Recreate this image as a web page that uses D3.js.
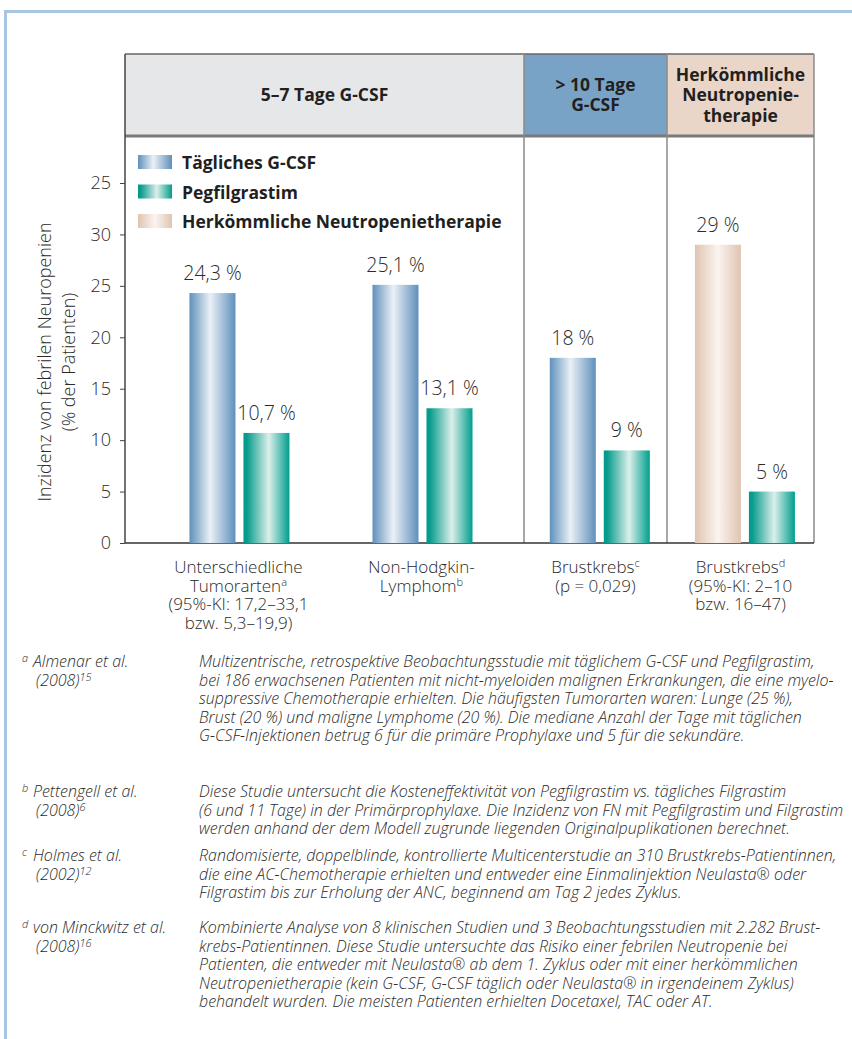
<!DOCTYPE html>
<html>
<head>
<meta charset="utf-8">
<script src="https://cdn.jsdelivr.net/npm/d3@7"></script>
<style>
body { margin: 0; background: #fff; }
svg { display: block; }
</style>
</head>
<body>
<div id="app"></div>
<script>
// Data.
var panelTitles = [["5–7 Tage G-CSF"], ["> 10 Tage", "G-CSF"], ["Herkömmliche", "Neutropenie-", "therapie"]];
var categories = ["Unterschiedliche Tumorarten", "Non-Hodgkin-Lymphom", "Brustkrebs c", "Brustkrebs d"];
var categoryPanel = [0, 0, 1, 2];
var categoryLines = [
	[["Unterschiedliche"], ["Tumorarten", "a"], ["(95%-KI: 17,2–33,1"], ["bzw. 5,3–19,9)"]],
	[["Non-Hodgkin-"], ["Lymphom", "b"]],
	[["Brustkrebs", "c"], ["(p = 0,029)"]],
	[["Brustkrebs", "d"], ["(95%-KI: 2–10"], ["bzw. 16–47)"]]
];
var seriesNames = ["Tägliches G-CSF", "Pegfilgrastim", "Herkömmliche Neutropenietherapie"];
var firstSeries = [0, 0, 0, 2];		// which series the first bar of each group belongs to
var firstValues = [24.3, 25.1, 18, 29];
var pegValues = [10.7, 13.1, 9, 5];
var yTicks = [0, 5, 10, 15, 20, 25, 30, 35];
var yTickLabels = ["0", "5", "10", "15", "20", "25", "30", "25"];	// top label reads "25" in the original
var yTitle = ["Inzidenz von febrilen Neuropenien", "(% der Patienten)"];

var noteLetters = ["a", "b", "c", "d"];
var noteAuthors = [
	[["Almenar et al."], ["(2008)", "15"]],
	[["Pettengell et al."], ["(2008)", "6"]],
	[["Holmes et al."], ["(2002)", "12"]],
	[["von Minckwitz et al."], ["(2008)", "16"]]
];
var noteTexts = [
	["Multizentrische, retrospektive Beobachtungsstudie mit täglichem G-CSF und Pegfilgrastim,",
	 "bei 186 erwachsenen Patienten mit nicht-myeloiden malignen Erkrankungen, die eine myelo-",
	 "suppressive Chemotherapie erhielten. Die häufigsten Tumorarten waren: Lunge (25 %),",
	 "Brust (20 %) und maligne Lymphome (20 %). Die mediane Anzahl der Tage mit täglichen",
	 "G-CSF-Injektionen betrug 6 für die primäre Prophylaxe und 5 für die sekundäre."],
	["Diese Studie untersucht die Kosteneffektivität von Pegfilgrastim vs. tägliches Filgrastim",
	 "(6 und 11 Tage) in der Primärprophylaxe. Die Inzidenz von FN mit Pegfilgrastim und Filgrastim",
	 "werden anhand der dem Modell zugrunde liegenden Originalpuplikationen berechnet."],
	["Randomisierte, doppelblinde, kontrollierte Multicenterstudie an 310 Brustkrebs-Patientinnen,",
	 "die eine AC-Chemotherapie erhielten und entweder eine Einmalinjektion Neulasta® oder",
	 "Filgrastim bis zur Erholung der ANC, beginnend am Tag 2 jedes Zyklus."],
	["Kombinierte Analyse von 8 klinischen Studien und 3 Beobachtungsstudien mit 2.282 Brust-",
	 "krebs-Patientinnen. Diese Studie untersuchte das Risiko einer febrilen Neutropenie bei",
	 "Patienten, die entweder mit Neulasta® ab dem 1. Zyklus oder mit einer herkömmlichen",
	 "Neutropenietherapie (kein G-CSF, G-CSF täglich oder Neulasta® in irgendeinem Zyklus)",
	 "behandelt wurden. Die meisten Patienten erhielten Docetaxel, TAC oder AT."]
];

// Layout.
var width = 852, height = 1039;
var panelEdges = [125, 524, 667, 814];
var headTop = 54, headBottom = 136, baseY = 543, topY = 183;
var panelFill = ["#e6e7e9", "#79a3c6", "#e9d6c9"];
var noteY = [667, 797, 861, 933], noteLine = 18.5, noteSize = 15;
var lightFont = "'Open Sans', 'DejaVu Sans', sans-serif";
var boldFont = "'Open Sans', 'DejaVu Sans', sans-serif";
var textColor = "#2a2a2a";

var de = d3.formatLocale({decimal: ",", thousands: ".", grouping: [3], currency: ["", " €"]});
var fmt = function (v) { return de.format(v % 1 ? ".1f" : "d")(v) + " %"; };

var svg = d3.select("#app").append("svg")
	.attr("width", width).attr("height", height);

// Bar gradients.
var gradStops = [
	[[0, "#5f90bb"], [0.45, "#eaf0f6"], [1, "#5f90bb"]],
	[[0, "#009a8a"], [0.08, "#0a9d8e"], [0.55, "#dcefea"], [1, "#009e8e"]],
	[[0, "#e0c4b1"], [0.5, "#faf4f0"], [1, "#e0c4b1"]]
];
var defs = svg.append("defs");
gradStops.forEach(function (stops, i)
{
	var g = defs.append("linearGradient").attr("id", "grad" + i)
		.attr("x1", 0).attr("x2", 1).attr("y1", 0).attr("y2", 0);
	stops.forEach(function (s) { g.append("stop").attr("offset", s[0]).attr("stop-color", s[1]); });
});

// Outer frame.
svg.append("path")
	.attr("d", "M5.5,1039V11.5H852")
	.attr("fill", "none").attr("stroke", "#a8c5e2").attr("stroke-width", 3);

// Scales.
var y = d3.scaleLinear().domain([0, 35]).range([baseY, topY]);
var panelScales = panelTitles.map(function (t, p)
{
	var dom = categories.filter(function (c, i) { return categoryPanel[i] == p; });
	return d3.scalePoint().domain(dom)
		.range([panelEdges[p], panelEdges[p + 1]])
		.padding(dom.length > 1 ? 0.59 : 1).align(0.53);
});
var xGroup = function (i) { return panelScales[categoryPanel[i]](categories[i]); };
var xInner = d3.scaleBand().domain([0, 1]).range([-50, 50]).paddingInner(0.148);

// Header panels.
var head = svg.append("g");
panelTitles.forEach(function (lines, p)
{
	var x0 = panelEdges[p], x1 = panelEdges[p + 1], cx = (x0 + x1) / 2;
	head.append("rect").attr("x", x0).attr("y", headTop)
		.attr("width", x1 - x0).attr("height", headBottom - headTop)
		.attr("fill", panelFill[p]);
	var lh = 20.5, y0 = (headTop + headBottom) / 2 - (lines.length - 1) * lh / 2 + 6;
	lines.forEach(function (l, k)
	{
		head.append("text").attr("x", cx).attr("y", y0 + k * lh)
			.attr("text-anchor", "middle")
			.style("font", "bold 17.5px " + boldFont)
			.attr("fill", "#231f20").text(l);
	});
});
head.append("line").attr("x1", panelEdges[0]).attr("x2", panelEdges[3])
	.attr("y1", headTop).attr("y2", headTop).attr("stroke", "#666").attr("stroke-width", 1.5);
head.append("line").attr("x1", panelEdges[0]).attr("x2", panelEdges[3])
	.attr("y1", headBottom).attr("y2", headBottom).attr("stroke", "#7a7a7a").attr("stroke-width", 3);

// Panel dividers down to the baseline.
panelEdges.forEach(function (x, k)
{
	svg.append("line").attr("x1", x).attr("x2", x)
		.attr("y1", headTop).attr("y2", baseY)
		.attr("stroke", k == 0 ? "#444" : "#8a8a8a").attr("stroke-width", 1.5);
});

// Y axis.
var yAxis = svg.append("g").attr("transform", "translate(" + panelEdges[0] + ",0)")
	.call(d3.axisLeft(y).tickValues(yTicks)
		.tickFormat(function (d, i) { return yTickLabels[i]; })
		.tickSize(5).tickPadding(9));
yAxis.select(".domain").remove();
yAxis.selectAll(".tick line").attr("stroke", "#444");
yAxis.selectAll(".tick text").attr("fill", textColor)
	.style("font", "300 18px " + lightFont);

svg.append("line").attr("x1", panelEdges[0]).attr("x2", panelEdges[3])
	.attr("y1", baseY).attr("y2", baseY).attr("stroke", "#333").attr("stroke-width", 1.5);

// Y title.
yTitle.forEach(function (t, k)
{
	svg.append("text")
		.attr("transform", "translate(" + (51 + k * 24) + "," + 362 + ") rotate(-90)")
		.attr("text-anchor", "middle").attr("fill", textColor)
		.style("font", "300 18px " + lightFont)
		.text(t);
});

// Bars.
var bars = [];
categories.forEach(function (c, i)
{
	bars.push({group: i, slot: 0, series: firstSeries[i], value: firstValues[i]});
	bars.push({group: i, slot: 1, series: 1, value: pegValues[i]});
});
svg.append("g").selectAll("rect").data(bars).join("rect")
	.attr("x", function (d) { return xGroup(d.group) + xInner(d.slot); })
	.attr("width", xInner.bandwidth())
	.attr("y", function (d) { return y(d.value); })
	.attr("height", function (d) { return y(0) - y(d.value); })
	.attr("fill", function (d) { return "url(#grad" + d.series + ")"; });
svg.append("g").selectAll("text").data(bars).join("text")
	.attr("x", function (d) { return xGroup(d.group) + xInner(d.slot) + xInner.bandwidth() / 2; })
	.attr("y", function (d) { return y(d.value) - 13; })
	.attr("text-anchor", "middle").attr("fill", textColor)
	.style("font", "300 19.5px " + lightFont)
	.text(function (d) { return fmt(d.value); });

// Category labels.
categoryLines.forEach(function (lines, i)
{
	var p = categoryPanel[i];
	var cx = panelScales[p].domain().length > 1 ? xGroup(i) - 1 : (panelEdges[p] + panelEdges[p + 1]) / 2;
	lines.forEach(function (l, k)
	{
		var t = svg.append("text").attr("x", cx).attr("y", 573 + k * 18.5)
			.attr("text-anchor", "middle").attr("fill", textColor)
			.style("font", "300 17px " + lightFont);
		t.append("tspan").text(l[0]);
		if (l[1])
			t.append("tspan").attr("dy", -6).style("font-size", "11px").text(l[1]);
	});
});

// Legend.
var legend = svg.append("g").attr("transform", "translate(138,155)");
seriesNames.forEach(function (s, i)
{
	legend.append("rect").attr("x", 0).attr("y", i * 29.5)
		.attr("width", 34).attr("height", 14).attr("fill", "url(#grad" + i + ")");
	legend.append("text").attr("x", 44).attr("y", i * 29.5 + 14)
		.attr("fill", "#231f20")
		.style("font", "bold 17.5px " + boldFont)
		.text(s);
});

// Footnotes: narrow Open Sans via its width axis so the first line spans 616px at 15px,
// fall back to DejaVu Sans Condensed if the width axis is missing.
var probe = svg.append("text").style("font", "italic 300 " + noteSize + "px 'Open Sans'").text(noteTexts[0][0]);
var w100 = probe.node().getComputedTextLength();
probe.style("font-stretch", "75%");
var w75 = probe.node().getComputedTextLength();
probe.remove();
var useCond = w75 < w100 * 0.95;
var stretch = useCond ? Math.max(75, Math.min(100, 75 + 25 * (616 - w75) / (w100 - w75))) : 100;

var notes = svg.append("g").attr("fill", textColor)
	.style("font-family", useCond ? "'Open Sans'" : "'DejaVu Sans Condensed', 'DejaVu Sans', sans-serif")
	.style("font-stretch", useCond ? stretch + "%" : null)
	.style("font-weight", useCond ? 300 : null)
	.style("font-style", "italic").style("font-size", noteSize + "px");
noteLetters.forEach(function (letter, i)
{
	notes.append("text").attr("x", 22).attr("y", noteY[i] - 5)
		.attr("class", "sup").text(letter);
	noteAuthors[i].forEach(function (l, k)
	{
		var t = notes.append("text").attr("x", k == 0 ? 33 : 36).attr("y", noteY[i] + k * noteLine);
		t.append("tspan").text(l[0]);
		if (l[1])
			t.append("tspan").attr("dy", -5).attr("class", "sup").text(l[1]);
	});
	noteTexts[i].forEach(function (l, k)
	{
		notes.append("text").attr("x", 199).attr("y", noteY[i] + k * noteLine)
			.attr("class", i == 0 && k == 0 ? "fit" : null).text(l);
	});
});
// Fine-tune the size so the first line spans the same width as in the original.
var fitLen = notes.select(".fit").node().getComputedTextLength();
noteSize = noteSize * 616 / fitLen;
notes.style("font-size", noteSize + "px");
notes.selectAll(".sup").style("font-size", (noteSize * 0.68) + "px");
</script>
</body>
</html>
